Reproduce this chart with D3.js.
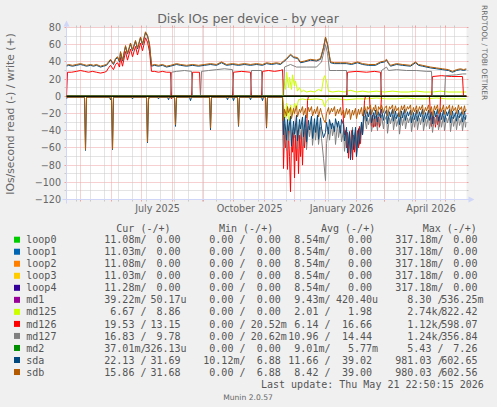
<!DOCTYPE html>
<html><head><meta charset="utf-8">
<script src="https://cdn.jsdelivr.net/npm/d3@7/dist/d3.min.js"></script>
<style>
body{margin:0;background:#f0f0f0}
svg{display:block}
.mono{font-family:"DejaVu Sans Mono",monospace;font-size:10px;fill:#555;white-space:pre}
.sans{font-family:"DejaVu Sans",sans-serif;fill:#666}
</style>
</head><body>
<svg id="c" width="497" height="407"></svg>
<script>
// ---------------- DATA ----------------
// day offsets from 2025-04-16 22:50:15 (graph start, 400 days before last update)
const names = ["loop0","loop1","loop2","loop3","loop4","md1","md125","md126","md127","md2","sda","sdb"];
const colors = ["#00CC00","#0066B3","#FF8000","#FFCC00","#330099","#990099","#CCFF00","#FF0000","#808080","#008F00","#00487D","#B35A00"];

const flat = [[0,0],[400,0]];

const sdbWrite = [[0,36],[2,37],[6,36],[10,37],[14,38],[17,37],[20,36],[24,37],[27,36],[30,37],[34,35],[37,36],[40,37],[42,40],[44,43],[47,38],[49,44],[51,46],[53,41],[54,52],[56,42],[59,59],[61,50],[64,62],[66,54],[69,65],[71,56],[74,69],[76,61],[79,75],[81,71],[83,61],[85,36],[88,37],[92,36],[96,37],[100,35],[104,36],[110,38],[114,37],[120,36],[126,37],[132,36],[138,37],[144,38],[150,37],[155,40],[160,37],[166,38],[172,37],[178,38],[184,37],[190,38],[196,37],[200,39],[205,38],[210,39],[214,38],[217,41],[220,44],[224,49],[227,46],[231,45],[234,40],[238,41],[244,43],[250,42],[254,44],[257,57],[259,69],[261,61],[264,40],[268,39],[274,39],[280,39],[285,38],[291,40],[296,38],[302,37],[309,37],[314,40],[318,41],[320,43],[322,39],[324,36],[330,38],[336,37],[344,36],[349,40],[352,37],[356,36],[364,34],[370,33],[376,32],[382,31],[386,29],[390,31],[394,32],[397,31],[400,32]];
const sdaWrite = [[0,35],[2,36],[6,35],[10,36],[14,37],[17,36],[20,35],[24,36],[27,35],[30,36],[34,34],[37,35],[40,36],[42,39],[44,42],[47,37],[49,43],[51,45],[53,40],[54,51],[56,41],[59,58],[61,49],[64,61],[66,53],[69,64],[71,55],[74,68],[76,60],[79,74],[81,70],[83,60],[85,35],[88,36],[92,35],[96,36],[100,34],[104,35],[110,37],[114,36],[120,35],[126,36],[132,35],[138,36],[144,37],[150,36],[155,39],[160,36],[166,37],[172,36],[178,37],[184,36],[190,37],[196,36],[200,38],[205,37],[210,38],[214,37],[217,40],[220,43],[224,48],[227,45],[231,44],[234,39],[238,40],[244,42],[250,41],[254,43],[257,56],[259,68],[261,60],[264,39],[268,38],[274,38],[280,38],[285,37],[291,39],[296,37],[302,36],[309,36],[314,39],[318,40],[320,42],[322,38],[324,35],[330,37],[336,36],[344,35],[349,39],[352,36],[356,35],[364,33],[370,32],[376,31],[382,30],[386,28],[390,30],[394,31],[397,30],[400,31]];
const md126Write = [[0,0],[1,28],[5,28],[10,29],[14,30],[18,29],[22,28],[26,29],[30,28],[34,27],[38,28],[40,29],[42,33],[44,36],[47,31],[49,37],[51,39],[53,34],[54,45],[56,35],[59,52],[61,42],[64,55],[66,46],[69,58],[71,48],[74,62],[76,53],[79,68],[81,63],[83,52],[85,29],[88,29],[92,28],[96,29],[100,28],[104,28],[105,0],[125,0],[126,28],[133,28],[134,0],[166,0],[167,28],[175,29],[184,28],[185,0],[195,0],[196,29],[202,30],[208,29],[214,30],[216,31],[217,0],[280,0],[281,28],[290,29],[300,28],[308,29],[314,28],[315,0],[365,0],[366,23],[375,24],[385,23],[396,23],[397,0],[400,0]];
const md127Write = [[0,0],[104,0],[105,28],[110,29],[118,30],[125,29],[126,0],[134,0],[135,29],[142,30],[150,31],[158,32],[166,31],[167,0],[184,0],[185,30],[195,30],[196,0],[217,0],[218,34],[224,37],[230,34],[240,34],[250,34],[255,40],[258,55],[259,60],[261,50],[263,30],[270,30],[280,30],[281,0],[314,0],[315,30],[320,34],[322,30],[330,31],[340,30],[350,30],[360,29],[365,29],[366,0],[378,0],[379,24],[390,25],[396,26],[400,26]];
const md125Write = [[0,0],[216,0],[217,20],[219,8],[220,28],[222,10],[223,22],[225,8],[226,25],[228,12],[229,18],[231,6],[233,10],[235,5],[237,7],[240,5],[244,6],[248,5],[252,8],[255,6],[257,20],[258,24],[260,18],[262,6],[266,5],[272,6],[278,5],[284,7],[290,5],[296,6],[302,5],[310,6],[318,5],[326,6],[334,5],[342,5],[350,6],[358,5],[366,5],[374,6],[382,5],[390,5],[400,5]];

const sdbRead = [[0,-1],[18,-1],[19,-62],[20,-1],[45,-1],[46,-61],[47,-1],[80,-1],[81,-53],[82,-1],[108,-1],[109,-33],[110,-1],[143,-1],[144,-37],[145,-1],[171,-1],[172,-34],[173,-1],[199,-1],[200,-36],[201,-1],[216,-1],[217,-28],[218,-15],[220,-23],[221,-12],[222,-19],[224,-13],[225,-26],[227,-14],[228,-20],[230,-11],[231,-24],[233,-15],[234,-19],[236,-12],[237,-22],[239,-14],[240,-25],[242,-13],[243,-18],[245,-12],[246,-23],[248,-15],[249,-20],[251,-12],[252,-24],[254,-14],[255,-19],[257,-27],[259,-31],[260,-20],[262,-13],[263,-21],[265,-14],[266,-18],[268,-12],[269,-23],[271,-15],[272,-20],[274,-13],[275,-22],[277,-16],[278,-25],[280,-14],[281,-21],[283,-15],[284,-27],[286,-16],[287,-22],[289,-14],[290,-26],[292,-15],[293,-21],[295,-13],[296,-23],[297,-18],[298,-11],[300,-20],[301,-12],[302,-15],[304,-10],[305,-21],[307,-13],[308,-17],[309,-10],[311,-22],[312,-12],[314,-16],[315,-10],[317,-19],[318,-14],[320,-11],[321,-23],[323,-12],[324,-15],[326,-10],[327,-20],[329,-11],[330,-17],[332,-13],[333,-24],[335,-11],[336,-16],[338,-10],[339,-19],[341,-12],[342,-15],[344,-10],[345,-22],[347,-13],[348,-18],[350,-11],[351,-20],[353,-12],[354,-16],[356,-10],[357,-21],[359,-13],[360,-17],[362,-10],[363,-19],[365,-12],[366,-23],[368,-11],[369,-16],[371,-10],[372,-20],[374,-13],[375,-18],[377,-10],[378,-21],[380,-12],[381,-15],[383,-10],[384,-22],[386,-11],[387,-17],[389,-13],[390,-20],[392,-10],[393,-16],[395,-12],[396,-21],[398,-11],[399,-18],[400,-15]];
const sdaRead = [[0,-3],[1,-1],[18,-1],[19,-63],[20,-1],[43,-1],[44,-4],[45,-1],[46,-62],[47,-1],[65,-1],[66,-3],[67,-1],[80,-1],[81,-54],[82,-4],[83,-1],[91,-1],[92,-3],[93,-1],[101,-1],[102,-4],[103,-1],[108,-1],[109,-35],[110,-1],[123,-1],[124,-5],[125,-1],[143,-1],[144,-39],[145,-1],[160,-1],[161,-4],[162,-1],[166,-1],[167,-5],[168,-1],[171,-1],[172,-35],[173,-1],[183,-1],[184,-4],[185,-1],[195,-1],[196,-5],[197,-1],[199,-1],[200,-37],[201,-1],[216,-1],[217,-45],[218,-24],[220,-51],[221,-27],[222,-40],[224,-23],[225,-58],[227,-29],[228,-44],[230,-22],[231,-52],[233,-27],[234,-38],[236,-24],[237,-47],[239,-22],[240,-53],[242,-28],[243,-39],[245,-23],[246,-49],[248,-26],[249,-42],[251,-22],[252,-50],[254,-25],[255,-37],[257,-48],[259,-42],[260,-30],[262,-44],[263,-27],[265,-38],[266,-31],[268,-41],[269,-26],[271,-36],[272,-29],[274,-43],[275,-27],[277,-33],[278,-52],[280,-36],[281,-66],[283,-41],[284,-74],[286,-39],[287,-62],[289,-36],[290,-70],[292,-38],[293,-55],[295,-30],[296,-45],[297,-22],[298,-16],[300,-29],[301,-18],[302,-24],[304,-15],[305,-31],[307,-19],[308,-26],[309,-16],[311,-30],[312,-18],[314,-25],[315,-15],[317,-28],[318,-21],[320,-16],[321,-32],[323,-18],[324,-24],[326,-15],[327,-29],[329,-17],[330,-26],[332,-19],[333,-33],[335,-17],[336,-25],[338,-15],[339,-28],[341,-18],[342,-23],[344,-16],[345,-31],[347,-19],[348,-27],[350,-16],[351,-29],[353,-18],[354,-24],[356,-15],[357,-30],[359,-19],[360,-26],[362,-16],[363,-28],[365,-18],[366,-32],[368,-17],[369,-24],[371,-15],[372,-29],[374,-19],[375,-27],[377,-16],[378,-30],[380,-18],[381,-23],[383,-15],[384,-31],[386,-17],[387,-26],[389,-19],[390,-29],[392,-16],[393,-25],[395,-18],[396,-30],[398,-17],[399,-27],[400,-22]];
const md127Read = [[0,0],[104,0],[105,-2],[106,0],[166,0],[167,-2],[168,0],[216,0],[217,-60],[218,-32],[220,-63],[221,-34],[222,-52],[224,-30],[225,-59],[227,-36],[228,-48],[230,-29],[231,-61],[233,-33],[234,-50],[236,-31],[237,-58],[239,-28],[240,-62],[242,-35],[243,-47],[245,-30],[246,-57],[248,-33],[249,-51],[251,-30],[252,-56],[254,-36],[255,-49],[257,-72],[259,-98],[260,-55],[262,-36],[263,-51],[265,-32],[266,-46],[268,-35],[269,-56],[271,-31],[272,-48],[274,-34],[275,-53],[277,-40],[278,-64],[280,-38],[281,-60],[283,-42],[284,-67],[286,-36],[287,-58],[289,-40],[290,-65],[292,-37],[293,-57],[295,-32],[296,-44],[297,-30],[298,-23],[300,-38],[301,-25],[302,-33],[304,-22],[305,-41],[307,-26],[308,-35],[309,-23],[311,-40],[312,-25],[314,-34],[315,-22],[317,-38],[318,-28],[320,-23],[321,-43],[323,-25],[324,-32],[326,-22],[327,-39],[329,-24],[330,-35],[332,-26],[333,-44],[335,-24],[336,-34],[338,-22],[339,-38],[341,-25],[342,-31],[344,-23],[345,-41],[347,-26],[348,-36],[350,-23],[351,-39],[353,-25],[354,-33],[356,-22],[357,-40],[359,-26],[360,-35],[362,-23],[363,-38],[365,-25],[366,-42],[368,-24],[369,-33],[371,-22],[372,-39],[374,-26],[375,-36],[377,-23],[378,-40],[380,-25],[381,-31],[383,-22],[384,-41],[386,-24],[387,-35],[389,-26],[390,-39],[392,-23],[393,-34],[395,-25],[396,-40],[398,-24],[399,-36],[400,-30]];
const md126Read = [[0,-2],[1,0],[104,0],[105,-3],[106,0],[216,0],[217,-84],[218,-40],[219,-60],[220,-45],[221,-85],[222,-40],[223,-70],[224,-111],[225,-50],[226,-65],[227,-42],[228,-95],[229,-45],[230,-75],[231,-40],[232,-90],[233,-45],[234,-70],[235,-40],[236,-80],[237,-42],[238,-60],[239,-38],[240,-55],[241,-5],[242,0],[276,0],[277,-30],[278,-45],[279,-40],[280,-60],[281,-42],[282,-72],[283,-45],[284,-62],[285,-40],[286,-74],[287,-45],[288,-65],[289,-40],[290,-70],[291,-40],[292,-60],[293,-35],[294,-55],[295,-35],[296,-45],[297,-30],[298,-5],[299,0],[303,0],[304,-25],[305,-35],[306,-22],[307,-36],[308,-25],[309,-35],[310,-22],[311,-34],[312,-24],[313,-36],[314,-20],[315,0],[363,0],[364,-25],[365,-35],[366,-22],[367,-34],[368,-25],[369,-36],[370,-22],[371,-33],[372,-24],[373,-35],[374,0],[400,0]];
const md125Read = [[0,0],[216,0],[217,-10],[219,-25],[220,-8],[222,-28],[224,-10],[226,-22],[228,-8],[230,-15],[232,-4],[236,-3],[240,-4],[250,-3],[256,-4],[258,-12],[260,-6],[262,-3],[270,-3],[280,-4],[290,-3],[300,-3],[310,-2],[320,-3],[330,-3],[340,-2],[350,-3],[360,-3],[370,-2],[380,-3],[390,-3],[400,-3]];

// legend values: [read, write]
const curVals = [["11.08m","0.00"],["11.03m","0.00"],["11.08m","0.00"],["11.03m","0.00"],["11.28m","0.00"],["39.22m","50.17u"],["6.67","8.86"],["19.53","13.15"],["16.83","9.78"],["37.01m","326.13u"],["22.13","31.69"],["15.86","31.68"]];
const minVals = [["0.00","0.00"],["0.00","0.00"],["0.00","0.00"],["0.00","0.00"],["0.00","0.00"],["0.00","0.00"],["0.00","0.00"],["0.00","20.52m"],["0.00","20.62m"],["0.00","0.00"],["10.12m","6.88"],["0.00","6.88"]];
const avgVals = [["8.54m","0.00"],["8.54m","0.00"],["8.54m","0.00"],["8.54m","0.00"],["8.54m","0.00"],["9.43m","420.40u"],["2.01","1.98"],["6.14","16.66"],["10.96","14.44"],["9.01m","5.77m"],["11.66","39.02"],["8.42","39.00"]];
const maxVals = [["317.18m","0.00"],["317.18m","0.00"],["317.18m","0.00"],["317.18m","0.00"],["317.18m","0.00"],["8.30","536.25m"],["2.74k","822.42"],["1.12k","598.07"],["1.24k","356.84"],["5.43","7.26"],["981.03","602.65"],["980.03","602.56"]];
const yTickValues = [-120,-100,-80,-60,-40,-20,0,20,40,60,80];
const titleText = "Disk IOs per device - by year";
const yTitle = "IOs/second read (-) / write (+)";
const lastUpdate = "Last update: Thu May 21 22:50:15 2026";

const readSeries = [flat,flat,flat,flat,flat,flat,md125Read,md126Read,md127Read,flat,sdaRead,sdbRead];
const writeSeries = [flat,flat,flat,flat,flat,flat,md125Write,md126Write,md127Write,flat,sdaWrite,sdbWrite];

// ---------------- DRAW ----------------
const DAY = 86400000;
const t0 = Date.UTC(2025,3,16,22,50,15);
const t1 = t0 + 400*DAY;
const svg = d3.select("#c");
const X0 = 66.5, X1 = 466.5;
const x = d3.scaleUtc().domain([new Date(t0), new Date(t1)]).range([X0, X1]);
const y = d3.scaleLinear().domain([-120, 80]).range([199.5, 27.5]);
const Y0 = y(-120), Y1 = y(80);
const px = v => Math.floor(v) + 0.5;
const dt = d => new Date(t0 + d*DAY);

svg.append("rect").attr("width",497).attr("height",407).attr("fill","#f0f0f0");
svg.append("rect").attr("x",X0).attr("y",Y1).attr("width",X1-X0).attr("height",Y0-Y1).attr("fill","#fff");

const g = svg.append("g");
const minorCol = "#c9c9c9", majorCol = "#eea3a3";
d3.range(-120, 81, 10).forEach(v => {
  const yy = px(y(v)); const maj = v % 20 === 0;
  const c = maj ? majorCol : minorCol;
  g.append("line").attr("x1",X0).attr("x2",X1).attr("y1",yy).attr("y2",yy).attr("stroke",c).attr("stroke-dasharray","1,1");
  g.append("line").attr("x1",X0-2).attr("x2",X0).attr("y1",yy).attr("y2",yy).attr("stroke",c);
  g.append("line").attr("x1",X1).attr("x2",X1+2).attr("y1",yy).attr("y2",yy).attr("stroke",c);
});
const minorDates = d3.utcSunday.range(new Date(t0), new Date(t1)).filter((d,i)=>i%2===1);
const majorDates = d3.utcMonth.range(new Date(t0), new Date(t1));
[[minorDates,minorCol],[majorDates,majorCol]].forEach(([ds,c]) => ds.forEach(d => {
  const xx = px(x(d));
  g.append("line").attr("x1",xx).attr("x2",xx).attr("y1",Y1).attr("y2",Y0).attr("stroke",c).attr("stroke-dasharray","1,1");
  g.append("line").attr("x1",xx).attr("x2",xx).attr("y1",Y0).attr("y2",Y0+2).attr("stroke",c);
  g.append("line").attr("x1",xx).attr("x2",xx).attr("y1",Y1-2).attr("y2",Y1).attr("stroke",c);
}));

const axCol = "#CFD6F8";
svg.append("line").attr("x1",X0).attr("x2",X0).attr("y1",Y0+4).attr("y2",Y1-3).attr("stroke",axCol);
svg.append("line").attr("x1",X0-4).attr("x2",X1+3).attr("y1",Y0).attr("y2",Y0).attr("stroke",axCol);
svg.append("path").attr("d",`M${X0-3},${Y1-1}L${X0+3},${Y1-1}L${X0},${Y1-7}Z`).attr("fill",axCol);
svg.append("path").attr("d",`M${X1+2},${Y0-3}L${X1+2},${Y0+3}L${X1+8},${Y0}Z`).attr("fill",axCol);

svg.append("clipPath").attr("id","pc").append("rect").attr("x",X0).attr("y",Y1).attr("width",X1-X0).attr("height",Y0-Y1);
const dl = svg.append("g").attr("clip-path","url(#pc)");
const line = d3.line().x(d => x(dt(d[0]))).y(d => y(d[1]));
names.forEach((n,i) => {
  dl.append("path").attr("d",line(readSeries[i])).attr("fill","none").attr("stroke",colors[i]).attr("stroke-width",1);
  dl.append("path").attr("d",line(writeSeries[i])).attr("fill","none").attr("stroke",colors[i]).attr("stroke-width",1);
});
dl.append("line").attr("x1",X0).attr("x2",X1).attr("y1",y(0)).attr("y2",y(0)).attr("stroke","#000").attr("stroke-width",1);

const ya = svg.append("g").attr("transform",`translate(${X0-0.5},0)`)
  .call(d3.axisLeft(y).tickValues(yTickValues).tickSize(0).tickPadding(5).tickFormat(d3.format("d")));
ya.select(".domain").remove();
ya.selectAll("text").style("font-family","DejaVu Sans").style("font-size","9.6px").attr("fill","#666");

const labelMonths = majorDates.filter(d => d.getUTCMonth() % 3 === 0);
const mids = labelMonths.map(d => new Date((+d + +d3.utcMonth.offset(d,1))/2));
const fmtM = d3.utcFormat("%B %Y");
const xa = svg.append("g").attr("transform",`translate(0,${Y0+0.5})`)
  .call(d3.axisBottom(x).tickValues(mids).tickSize(0).tickPadding(5).tickFormat(d => fmtM(d3.utcMonth.floor(d))));
xa.select(".domain").remove();
xa.selectAll("text").style("font-family","DejaVu Sans").style("font-size","9.6px").attr("fill","#666");

svg.append("text").attr("class","sans").attr("x",248).attr("y",23).attr("text-anchor","middle")
  .style("font-size","12.6px").attr("fill","#555").text(titleText);
svg.append("text").attr("class","sans").attr("transform","translate(14,114) rotate(-90)").attr("text-anchor","middle")
  .style("font-size","10.8px").attr("fill","#666").text(yTitle);
svg.append("text").attr("class","sans").attr("transform","translate(482,5) rotate(90)")
  .style("font-size","7.4px").attr("fill","#c4c4c4").text("RRDTOOL / TOBI OETIKER");

// legend
const CW = 6.02;
const split = v => { const m = v.match(/^([\d.]+)([a-zA-Z]?)$/); return [m[1], m[2]]; };
const p1 = v => { const [n,s] = split(v); return [n + (s || " ") + "/", Math.max(0, 6 - n.length)]; };
const p2 = v => { const [n,s] = split(v); return [n + s, Math.max(0, 6 - n.length)]; };
const cols = [
  {head:"Cur (-/+)", hx:116.3, a:98.3, b:144.5, vals:curVals},
  {head:"Min (-/+)", hx:219, a:197.3, b:244.7, vals:minVals},
  {head:"Avg (-/+)", hx:321, a:282.3, b:336, vals:avgVals},
  {head:"Max (-/+)", hx:422.7, a:395.3, b:441.3, vals:maxVals}
];
const lg = svg.append("g");
const headY = 232.3, row0 = 243.3, rowH = 12.03;
cols.forEach(c => lg.append("text").attr("class","mono").attr("x",c.hx).attr("y",headY).text(c.head));
names.forEach((n,i) => {
  const yy = row0 + rowH*i;
  lg.append("rect").attr("x",14).attr("y",yy-6.6).attr("width",6).attr("height",6).attr("fill",colors[i]);
  lg.append("text").attr("class","mono").attr("x",26.3).attr("y",yy).text(n);
  cols.forEach(c => {
    const [t1s, s1] = p1(c.vals[i][0]);
    const [t2s, s2] = p2(c.vals[i][1]);
    lg.append("text").attr("class","mono").attr("x",c.a + s1*CW).attr("y",yy).text(t1s);
    lg.append("text").attr("class","mono").attr("x",c.b + s2*CW).attr("y",yy).text(t2s);
  });
});
lg.append("text").attr("class","mono").attr("x",261).attr("y",388).text(lastUpdate);
svg.append("text").attr("class","sans").attr("x",248).attr("y",400).attr("text-anchor","middle")
  .style("font-size","7.6px").attr("fill","#aaa").text("Munin 2.0.57");
</script>
</body></html>
